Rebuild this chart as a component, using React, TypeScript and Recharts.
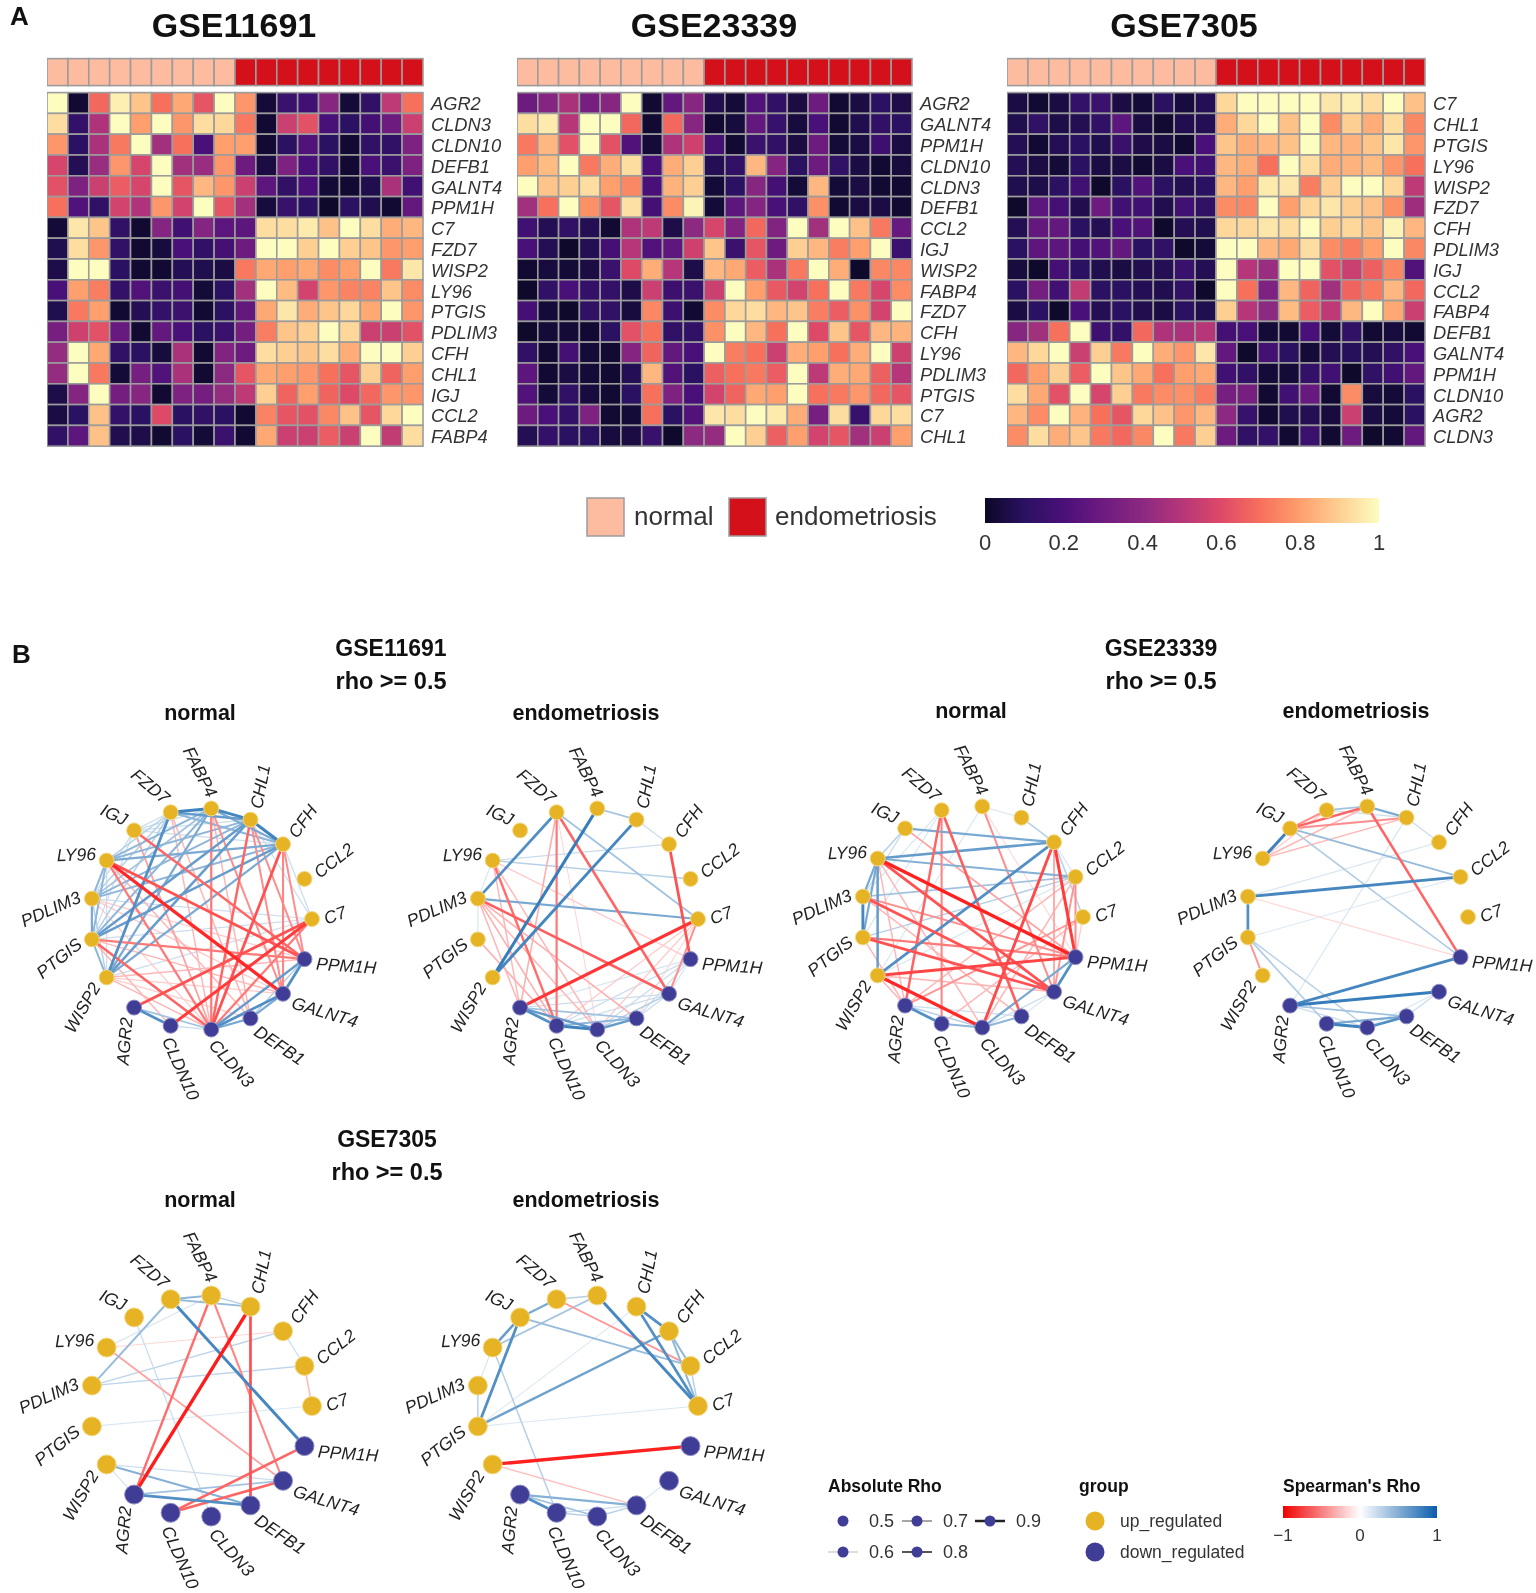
import { ScatterChart, Scatter, XAxis, YAxis, ReferenceArea } from "recharts"

const FONT = "'Liberation Sans', Arial, sans-serif"

// ---- panel A: scaled expression, one row per gene ----
const genes11691 = ["AGR2", "CLDN3", "CLDN10", "DEFB1", "GALNT4", "PPM1H", "C7", "FZD7", "WISP2", "LY96", "PTGIS", "PDLIM3", "CFH", "CHL1", "IGJ", "CCL2", "FABP4"]
const values11691 = [
  [1, .02, .68, .97, .88, .7, .82, .63, 1, .78, .03, .15, .17, .38, .03, .12, .52, .7],
  [.93, .13, .48, 1, .8, 1, .78, .93, .92, .72, .02, .55, .62, .2, .1, .18, .3, .55],
  [.78, .1, .47, .72, 1, .45, .7, .2, .8, .8, .02, .1, .22, .1, .02, .12, .12, .35],
  [.58, .08, .43, .78, .58, 1, .45, .43, .78, .3, .05, .35, .2, .12, .02, .2, .15, .35],
  [.62, .35, .55, .65, .58, 1, .63, .85, .78, .55, .25, .12, .2, .03, .02, .07, .47, .17],
  [.7, .22, .12, .57, .48, .78, .57, 1, .63, .45, .04, .14, .1, .01, .1, .07, .02, .27],
  [.03, .95, .88, .12, .02, .37, .17, .37, .25, .25, .93, .93, .96, .87, 1, .93, .83, .85],
  [.07, .93, .78, .12, .02, .04, .2, .12, .18, .3, 1, 1, .9, 1, .9, .88, .78, .8],
  [.06, 1, 1, .1, .02, .02, .08, .07, .05, .72, .82, .8, .82, .76, .8, 1, .72, .95],
  [.2, .8, .73, .13, .22, .15, .18, .03, .1, .45, 1, .86, .57, .78, .74, .74, .88, .76],
  [.07, .72, .8, .02, .08, .13, .15, .02, .1, .27, .82, .95, .83, .88, .92, .82, 1, .78],
  [.33, .56, .62, .28, .02, .27, .2, .1, .15, .32, .73, .88, .9, 1, .92, .55, .55, .62],
  [.42, 1, .82, .12, .1, .04, .47, .02, .36, .3, .93, .9, .88, .93, .83, 1, 1, .9],
  [.42, 1, .72, .03, .33, .22, .47, .02, .4, .63, .82, .8, .78, .7, .63, .9, .67, .8],
  [.06, .37, 1, .32, .38, .02, .35, .32, .42, .52, .9, .67, .8, .67, .6, .68, .78, .78],
  [.05, .1, .87, .13, .1, .6, .1, .12, .1, .02, .74, .63, .62, .75, .87, .63, .92, 1],
  [.12, .25, .87, .07, .06, .02, .1, .03, .15, .02, .82, .55, .55, .65, .55, 1, .53, .93],
]

const genes23339 = ["AGR2", "GALNT4", "PPM1H", "CLDN10", "CLDN3", "DEFB1", "CCL2", "IGJ", "WISP2", "FABP4", "FZD7", "CFH", "LY96", "PDLIM3", "PTGIS", "C7", "CHL1"]
const values23339 = [
  [.3, .37, .47, .33, .38, 1, .02, .27, .38, .07, .03, .22, .12, .05, .3, .02, .05, .1, .06],
  [.93, .96, .5, 1, 1, .68, .02, .68, .38, .02, .04, .27, .14, .04, .2, .02, .07, .12, .1],
  [.72, .85, .62, 1, .62, .22, .03, .48, .56, .18, .02, .15, .12, .05, .3, .03, .05, .16, .05],
  [.8, .86, 1, .72, .83, .93, .2, .83, .9, .08, .12, .85, .37, .1, .3, .12, .05, .02, .04],
  [1, .88, .9, .93, .8, .75, .2, .84, .9, .03, .1, .38, .18, .03, .85, .03, .05, .02, .02],
  [.45, .7, 1, .77, .63, .94, .18, .76, .98, .03, .25, .37, .2, .12, .77, .02, .05, .05, .02],
  [.17, .08, .12, .08, .02, .48, .52, .06, .4, .58, .36, .68, .36, 1, .45, 1, .87, .72, .28],
  [.2, .08, .01, .08, .18, .5, .22, .26, .56, .88, .15, .63, .3, .9, .85, .73, .8, 1, .15],
  [.02, .04, .03, .05, .15, .6, .83, .5, .06, .85, .82, .65, .47, .72, 1, .83, .01, .75, .75],
  [.01, .12, .2, .13, .13, .06, .55, .16, .15, .55, 1, .8, .64, .57, .7, 1, .72, .58, .76],
  [.18, .03, .01, .12, .12, .04, .75, .16, .02, .76, .92, .93, .85, .88, .73, .65, .77, .57, 1],
  [.01, .03, .03, .02, .1, .62, .7, .12, .12, .77, 1, .85, .7, 1, .6, .88, .63, .85, .84],
  [.12, .02, .18, .03, .02, .37, .67, .27, .2, 1, .73, .7, .55, .83, .8, .7, .83, 1, .56],
  [.25, .02, .05, .03, .02, .08, .85, .22, .1, .66, .7, .72, .65, 1, .52, .83, .82, .66, .5],
  [.22, .03, .12, .04, .02, .1, .7, .35, .2, .57, .67, .82, .8, 1, .7, .72, .78, .68, .63],
  [.3, .2, .13, .35, .02, .03, .7, .1, .22, .95, .93, 1, .96, .83, .33, .93, .14, .92, .93],
  [.08, .13, .1, .1, .04, .05, .14, .01, .4, .42, 1, .9, .66, .8, .57, .63, .45, .55, .8],
]

const genes7305 = ["C7", "CHL1", "PTGIS", "LY96", "WISP2", "FZD7", "CFH", "PDLIM3", "IGJ", "CCL2", "FABP4", "DEFB1", "GALNT4", "PPM1H", "CLDN10", "AGR2", "CLDN3"]
const values7305 = [
  [.05, .02, .05, .13, .15, .05, .03, .1, .04, .08, .92, 1, 1, 1, 1, .95, .97, .93, 1, .87],
  [.07, .12, .06, .08, .12, .25, .05, .02, .07, .08, .83, .92, 1, .87, 1, .76, .9, .83, .93, .75],
  [.08, .02, .08, .1, .07, .14, .06, .05, .02, .2, .88, .83, .85, .87, 1, .85, .84, .88, .95, .78],
  [.08, .05, .03, .1, .05, .05, .02, .05, .2, .17, .85, .83, .7, 1, .93, .83, .84, .86, .78, .7],
  [.07, .06, .1, .17, .01, .1, .22, .1, .08, .1, .85, .8, .96, .95, .73, .9, 1, 1, .92, .52],
  [.01, .25, .18, .07, .3, .17, .17, .07, .17, .12, .76, .75, 1, .8, .92, .95, .9, .87, .77, .44],
  [.08, .27, .27, .1, .08, .2, .22, .01, .08, .07, .92, .92, .95, .93, 1, .9, .92, .88, .98, .85],
  [.1, .25, .25, .18, .22, .27, .1, .12, .01, .03, 1, 1, .85, .82, .93, .76, .73, .8, 1, .75],
  [.04, .01, .18, .1, .07, .05, .07, .08, .14, .08, 1, .5, .43, 1, 1, .62, .55, .66, .75, .22],
  [.1, .32, .17, .53, .1, .1, .08, .07, .12, .01, 1, .7, .35, .85, .67, .45, .67, .72, .85, .68],
  [.05, .1, .01, .2, .08, .1, .07, .05, .1, .07, .9, .5, .4, .86, .65, .52, .85, 1, .82, .55],
  [.38, .45, .7, 1, .16, .13, .68, .48, .47, .5, .18, .2, .03, .02, .2, .03, .12, .02, .04, .02],
  [.85, .92, 1, .55, .9, .72, 1, .83, .78, .95, .27, .01, .18, .1, .03, .08, .09, .08, .12, .2],
  [.68, .8, .9, .65, 1, .88, .82, .7, .8, .82, .17, .12, .03, .03, .13, .17, .01, .12, .17, .27],
  [.93, .82, .62, 1, .58, .9, .72, .76, .77, .73, .33, .33, .02, .17, .28, .02, .76, .04, .03, .1],
  [.85, .76, 1, .84, .7, .63, .92, .87, .78, .85, .4, .14, .02, .07, .08, .04, .55, .05, .03, .1],
  [.76, .93, .83, .88, .72, .68, .75, 1, .72, .9, .3, .12, .13, .02, .15, .02, .3, .01, .02, .27],
]

const heatTicks = [0, 0.2, 0.4, 0.6, 0.8, 1]
const rhoTicks = [-1, 0, 1]

// ---- panel B: circular layout order, counter-clockwise from C7 ----
const ringGenes = ["C7", "CCL2", "CFH", "CHL1", "FABP4", "FZD7", "IGJ", "LY96", "PDLIM3", "PTGIS", "WISP2", "AGR2", "CLDN10", "CLDN3", "DEFB1", "GALNT4", "PPM1H"]
const downGenes = ["AGR2", "CLDN10", "CLDN3", "DEFB1", "GALNT4", "PPM1H"]
const labelTilt = [-20, -38, -54, -79, 63, 40, 25, -2, -24, -39, -60, -85, 66, 48, 34, 17, 4]
const labelEndAnchored = ["FABP4", "FZD7", "IGJ", "LY96", "PDLIM3", "PTGIS", "WISP2", "AGR2"]

type Edge = [string, string, number]

// positive rho = blue, negative rho = red
const edges11691Normal: Edge[] = [
  ["FZD7", "FABP4", .9], ["FABP4", "CHL1", .88], ["CHL1", "CFH", .9], ["FZD7", "CHL1", .8], ["FZD7", "CFH", .7], ["FABP4", "CFH", .75],
  ["IGJ", "FZD7", .55], ["IGJ", "FABP4", .55], ["IGJ", "CHL1", .55], ["IGJ", "CFH", .55], ["LY96", "FZD7", .6], ["LY96", "FABP4", .7],
  ["LY96", "CHL1", .7], ["LY96", "CFH", .75], ["PDLIM3", "LY96", .7], ["PDLIM3", "IGJ", .55], ["PDLIM3", "FZD7", .6], ["PDLIM3", "FABP4", .65],
  ["PDLIM3", "CHL1", .7], ["PDLIM3", "CFH", .7], ["PTGIS", "PDLIM3", .75], ["PTGIS", "LY96", .7], ["PTGIS", "IGJ", .55], ["PTGIS", "FZD7", .6],
  ["PTGIS", "FABP4", .7], ["PTGIS", "CHL1", .8], ["PTGIS", "CFH", .8], ["WISP2", "PTGIS", .7], ["WISP2", "PDLIM3", .6], ["WISP2", "LY96", .55],
  ["WISP2", "FZD7", .85], ["WISP2", "FABP4", .75], ["WISP2", "CHL1", .8], ["WISP2", "CFH", .75], ["C7", "CFH", .55], ["C7", "CHL1", .55],
  ["C7", "PTGIS", .55], ["C7", "WISP2", .55], ["C7", "PDLIM3", .55], ["AGR2", "CLDN10", .85], ["AGR2", "CLDN3", .65], ["CLDN10", "CLDN3", .55],
  ["CLDN3", "DEFB1", .75], ["CLDN3", "GALNT4", .85], ["CLDN3", "PPM1H", .8], ["DEFB1", "GALNT4", .75], ["DEFB1", "PPM1H", .6], ["GALNT4", "PPM1H", .85],
  ["LY96", "GALNT4", -.95], ["LY96", "PPM1H", -.85], ["LY96", "CLDN3", -.75], ["IGJ", "PPM1H", -.8], ["IGJ", "CLDN3", -.65], ["FZD7", "DEFB1", -.6],
  ["FZD7", "CLDN3", -.6], ["FABP4", "GALNT4", -.7], ["FABP4", "CLDN3", -.75], ["FABP4", "DEFB1", -.6], ["CHL1", "CLDN3", -.8], ["CHL1", "PPM1H", -.7],
  ["CHL1", "GALNT4", -.7], ["CFH", "CLDN3", -.85], ["CFH", "PPM1H", -.7], ["CFH", "GALNT4", -.72], ["C7", "AGR2", -.85], ["C7", "CLDN10", -.9],
  ["C7", "CLDN3", -.75], ["PTGIS", "PPM1H", -.75], ["PTGIS", "CLDN3", -.8], ["PTGIS", "GALNT4", -.6], ["WISP2", "PPM1H", -.6], ["WISP2", "CLDN3", -.6],
  ["WISP2", "DEFB1", -.55], ["WISP2", "GALNT4", -.55], ["PDLIM3", "CLDN3", -.55], ["PDLIM3", "PPM1H", -.55], ["PDLIM3", "GALNT4", -.55], ["PTGIS", "CLDN10", -.6],
  ["LY96", "DEFB1", -.6],
]

const edges11691Endo: Edge[] = [
  ["PDLIM3", "FZD7", .85], ["WISP2", "FABP4", .92], ["WISP2", "CHL1", .88], ["FZD7", "C7", .65], ["FABP4", "CHL1", .65], ["CHL1", "CFH", .55],
  ["LY96", "CFH", .55], ["LY96", "CCL2", .6], ["LY96", "PDLIM3", .52], ["PDLIM3", "PTGIS", .52], ["PDLIM3", "C7", .75], ["AGR2", "CLDN10", .85],
  ["AGR2", "CLDN3", .8], ["CLDN10", "CLDN3", .9], ["CLDN3", "DEFB1", .8], ["CLDN10", "DEFB1", .7], ["AGR2", "DEFB1", .65], ["AGR2", "GALNT4", .55],
  ["CLDN10", "GALNT4", .55], ["CLDN3", "GALNT4", .6], ["CLDN3", "PPM1H", .55], ["CLDN10", "PPM1H", .55], ["DEFB1", "GALNT4", .55], ["DEFB1", "PPM1H", .55],
  ["GALNT4", "PPM1H", .52], ["AGR2", "PPM1H", .52],
  ["C7", "AGR2", -.92], ["FZD7", "GALNT4", -.8], ["CFH", "PPM1H", -.85], ["PDLIM3", "GALNT4", -.82], ["LY96", "CLDN10", -.78], ["FZD7", "CLDN10", -.75],
  ["FZD7", "AGR2", -.62], ["LY96", "AGR2", -.6], ["LY96", "CLDN3", -.6], ["LY96", "PPM1H", -.55], ["PDLIM3", "AGR2", -.6], ["PDLIM3", "CLDN10", -.62],
  ["PDLIM3", "CLDN3", -.6], ["PDLIM3", "DEFB1", -.62], ["PTGIS", "CLDN10", -.62], ["C7", "GALNT4", -.7], ["C7", "CLDN10", -.55], ["C7", "CLDN3", -.55],
  ["C7", "DEFB1", -.52], ["FZD7", "CLDN3", -.52],
]

const edges23339Normal: Edge[] = [
  ["IGJ", "CFH", .75], ["LY96", "CFH", .8], ["LY96", "CCL2", .72], ["IGJ", "LY96", .6], ["LY96", "PDLIM3", .75], ["LY96", "PTGIS", .75],
  ["LY96", "WISP2", .8], ["PDLIM3", "PTGIS", .88], ["PDLIM3", "CCL2", .65], ["PTGIS", "CCL2", .6], ["WISP2", "CFH", .85], ["CFH", "C7", .6],
  ["CHL1", "CFH", .6], ["IGJ", "PDLIM3", .55], ["FABP4", "CHL1", .52], ["FABP4", "WISP2", .52], ["FZD7", "PDLIM3", .52], ["FZD7", "PTGIS", .52],
  ["CFH", "CCL2", .52], ["CCL2", "WISP2", .52], ["AGR2", "CLDN10", .85], ["AGR2", "CLDN3", .6], ["AGR2", "DEFB1", .55], ["CLDN10", "CLDN3", .7],
  ["CLDN3", "DEFB1", .7], ["CLDN3", "PPM1H", .75], ["GALNT4", "PPM1H", .85], ["DEFB1", "GALNT4", .52], ["CLDN3", "GALNT4", .55],
  ["LY96", "PPM1H", -.97], ["LY96", "GALNT4", -.85], ["PDLIM3", "GALNT4", -.85], ["PTGIS", "GALNT4", -.85], ["WISP2", "PPM1H", -.88], ["WISP2", "CLDN3", -.95],
  ["FZD7", "AGR2", -.8], ["FZD7", "DEFB1", -.82], ["FZD7", "CLDN10", -.72], ["CFH", "CLDN3", -.87], ["CFH", "PPM1H", -.9], ["CFH", "GALNT4", -.65],
  ["CCL2", "GALNT4", -.68], ["CCL2", "CLDN3", -.6], ["FABP4", "GALNT4", -.7], ["IGJ", "PPM1H", -.65], ["PDLIM3", "PPM1H", -.7], ["PTGIS", "PPM1H", -.75],
  ["PTGIS", "AGR2", -.6], ["LY96", "CLDN3", -.6], ["LY96", "AGR2", -.6], ["C7", "AGR2", -.68], ["C7", "CLDN10", -.6], ["C7", "PPM1H", -.55],
  ["FABP4", "PPM1H", -.52], ["WISP2", "AGR2", -.6], ["CCL2", "PPM1H", -.7], ["PDLIM3", "DEFB1", -.6], ["CCL2", "AGR2", -.6], ["WISP2", "GALNT4", -.6],
]

const edges23339Endo: Edge[] = [
  ["LY96", "IGJ", .9], ["FZD7", "FABP4", .65], ["FABP4", "CHL1", .75], ["FZD7", "CHL1", .55], ["CHL1", "CFH", .55], ["IGJ", "CCL2", .68],
  ["IGJ", "PPM1H", .62], ["PDLIM3", "CCL2", .88], ["PDLIM3", "PTGIS", .85], ["PDLIM3", "CFH", .52], ["PTGIS", "CCL2", .51], ["AGR2", "CHL1", .52],
  ["PTGIS", "CLDN10", .62], ["PTGIS", "CLDN3", .6], ["AGR2", "PPM1H", .88], ["AGR2", "GALNT4", .92], ["CLDN10", "CLDN3", .9], ["CLDN3", "DEFB1", .85],
  ["CLDN10", "DEFB1", .75], ["AGR2", "DEFB1", .65], ["AGR2", "CLDN3", .55], ["DEFB1", "GALNT4", .55], ["CLDN3", "GALNT4", .52],
  ["IGJ", "FABP4", -.8], ["IGJ", "CHL1", -.7], ["FZD7", "IGJ", -.7], ["LY96", "FABP4", -.6], ["LY96", "CHL1", -.6], ["LY96", "FZD7", -.55],
  ["FABP4", "PPM1H", -.8], ["PDLIM3", "PPM1H", -.52], ["PTGIS", "WISP2", -.68],
]

const edges7305Normal: Edge[] = [
  ["FZD7", "FABP4", .7], ["FABP4", "CHL1", .6], ["FZD7", "CHL1", .68], ["FZD7", "PDLIM3", .68], ["FZD7", "PPM1H", .88], ["CFH", "CCL2", .55],
  ["PDLIM3", "CFH", .58], ["PDLIM3", "CCL2", .58], ["LY96", "FABP4", .52], ["IGJ", "CLDN3", .55], ["PTGIS", "C7", .51], ["WISP2", "DEFB1", .72],
  ["WISP2", "AGR2", .53], ["AGR2", "DEFB1", .85], ["AGR2", "GALNT4", .65], ["WISP2", "GALNT4", .55],
  ["CHL1", "AGR2", -.98], ["FABP4", "AGR2", -.78], ["FABP4", "GALNT4", -.72], ["CHL1", "DEFB1", -.85], ["LY96", "GALNT4", -.65], ["LY96", "CFH", -.52],
  ["CCL2", "C7", -.6], ["PPM1H", "CLDN10", -.8], ["GALNT4", "CLDN10", -.8],
]

const edges7305Endo: Edge[] = [
  ["IGJ", "LY96", .8], ["IGJ", "FZD7", .75], ["IGJ", "PTGIS", .85], ["LY96", "FABP4", .65], ["FZD7", "FABP4", .6], ["PDLIM3", "LY96", .52],
  ["PDLIM3", "PTGIS", .6], ["FABP4", "C7", .88], ["CHL1", "CFH", .85], ["CHL1", "C7", .85], ["CFH", "CCL2", .7], ["CFH", "C7", .7],
  ["CCL2", "C7", .6], ["IGJ", "CCL2", .68], ["PTGIS", "CFH", .78], ["PTGIS", "CHL1", .51], ["PTGIS", "C7", .51], ["LY96", "CLDN10", .6],
  ["AGR2", "CLDN10", .85], ["AGR2", "CLDN3", .65], ["AGR2", "DEFB1", .72], ["CLDN10", "CLDN3", .6], ["CLDN3", "DEFB1", .6], ["CLDN10", "DEFB1", .55],
  ["DEFB1", "GALNT4", .52],
  ["WISP2", "PPM1H", -.97], ["WISP2", "DEFB1", -.58], ["FZD7", "CCL2", -.68],
]

const magmaStops = ["#0c0826", "#2a1161", "#4a1079", "#6e1b80", "#8c2981", "#b63679", "#de4968", "#f7705c", "#fe9f6d", "#fecf92", "#fcfdbf"]
const rhoStops = ["#f00000", "#ffffff", "#0a5cab"]

function hexRgb(hex: string) {
  return [1, 3, 5].map((i) => parseInt(hex.slice(i, i + 2), 16))
}

function mix(a: string, b: string, t: number) {
  const p = hexRgb(a)
  const q = hexRgb(b)
  return `rgb(${p.map((c, i) => Math.round(c + (q[i] - c) * t)).join(",")})`
}

function magma(v: number) {
  const pos = Math.min(v, 0.9999) * (magmaStops.length - 1)
  const i = Math.floor(pos)
  return mix(magmaStops[i], magmaStops[i + 1], pos - i)
}

function edgeStyle(rho: number) {
  const f = (Math.abs(rho) - 0.5) / 0.5
  return {
    stroke: mix("#ffffff", rho < 0 ? "#ff1414" : "#1668b0", 0.14 + 0.86 * f),
    strokeWidth: 1 + 2.5 * f,
  }
}

const GRID = "#9c9c9c"
const HEAT_TOP = 93
const ROW_H = 20.8

function HeatCell(props: any) {
  const { cx, cy, payload, cellW } = props
  if (cx == null) return null
  return <rect x={cx - cellW / 2} y={cy - ROW_H / 2} width={cellW} height={ROW_H} fill={magma(payload.v)} stroke={GRID} strokeWidth={1.6} />
}

function AnnotationCell(props: any) {
  const { cx, cy, payload, cellW } = props
  if (cx == null) return null
  return <rect x={cx - cellW / 2} y={cy - 13.5} width={cellW} height={27} fill={payload.normal ? "#fdbba0" : "#d4101a"} stroke={GRID} strokeWidth={1.6} />
}

function GeneTick({ x, y, payload, genes }: any) {
  return (
    <text x={x} y={y + 7.5} fontFamily={FONT} fontStyle="italic" fontSize={18.3} fill="#333">
      {genes[Math.floor(payload.value)]}
    </text>
  )
}

function Heatmap({ left, plotW, genes, values, nNormal }: { left: number; plotW: number; genes: string[]; values: number[][]; nNormal: number }) {
  const nCols = values[0].length
  const cellW = plotW / nCols
  const cells = values.flatMap((row, r) => row.map((v, c) => ({ x: c + 0.5, y: r + 0.5, v })))
  const annotation = values[0].map((_, c) => ({ x: c + 0.5, y: -0.985, normal: c < nNormal }))
  return (
    <div style={{ position: "absolute", left, top: HEAT_TOP - 2 * ROW_H }}>
      <ScatterChart width={plotW + 90} height={19 * ROW_H} margin={{ top: 0, right: 0, bottom: 0, left: 0 }}>
        <XAxis type="number" dataKey="x" domain={[0, nCols]} hide />
        <YAxis
          type="number"
          dataKey="y"
          orientation="right"
          reversed
          domain={[-2, 17]}
          ticks={genes.map((_, i) => i + 0.5)}
          interval={0}
          axisLine={false}
          tickLine={false}
          width={90}
          tickMargin={2}
          tick={(p: any) => <GeneTick {...p} genes={genes} />}
        />
        <Scatter data={annotation} isAnimationActive={false} shape={(p: any) => <AnnotationCell {...p} cellW={cellW} />} />
        <Scatter data={cells} isAnimationActive={false} shape={(p: any) => <HeatCell {...p} cellW={cellW} />} />
      </ScatterChart>
    </div>
  )
}

const RING_R = 111
const ringNodes = ringGenes.map((gene, i) => {
  const a = (i * 2 * Math.PI) / ringGenes.length
  return { gene, tilt: labelTilt[i], x: RING_R * Math.cos(a), y: RING_R * Math.sin(a), ux: Math.cos(a), uy: -Math.sin(a) }
})

function RingNode(props: any) {
  const { cx, cy, payload, r } = props
  if (cx == null) return null
  const down = downGenes.includes(payload.gene)
  const off = r + 5
  const lx = cx + payload.ux * off
  const ly = cy + payload.uy * off
  return (
    <g>
      <circle cx={cx} cy={cy} r={r} fill={down ? "#3f3d96" : "#e6b325"} stroke={down ? "#8f8ec4" : "#f3d986"} strokeWidth={1} />
      <text
        x={lx}
        y={ly}
        transform={`rotate(${payload.tilt} ${lx} ${ly})`}
        textAnchor={labelEndAnchored.includes(payload.gene) ? "end" : "start"}
        dominantBaseline="central"
        fontFamily={FONT}
        fontStyle="italic"
        fontSize={17.5}
        fill="#222"
      >
        {payload.gene}
      </text>
    </g>
  )
}

function NoPoint() {
  return <g />
}

function Network({ cx, cy, edges, r }: { cx: number; cy: number; edges: Edge[]; r: number }) {
  const sorted = [...edges].sort((a, b) => Math.abs(a[2]) - Math.abs(b[2]))
  const at = (g: string) => ringNodes.find((n) => n.gene === g)!
  return (
    <div style={{ position: "absolute", left: cx - 200, top: cy - 200 }}>
      <ScatterChart width={400} height={400} margin={{ top: 0, right: 0, bottom: 0, left: 0 }}>
        <XAxis type="number" dataKey="x" domain={[-200, 200]} hide />
        <YAxis type="number" dataKey="y" domain={[-200, 200]} hide />
        {sorted.map(([a, b, rho]) => (
          <Scatter key={a + b} data={[at(a), at(b)]} line={edgeStyle(rho)} shape={NoPoint} isAnimationActive={false} />
        ))}
        <Scatter data={ringNodes} isAnimationActive={false} shape={(p: any) => <RingNode {...p} r={r} />} />
      </ScatterChart>
    </div>
  )
}

function ColorBar({ left, top, width, height, domain, ticks, stops, fontSize, id }: any) {
  // the tick values double as a series so the chart has data to lay its axis out from
  const anchors = ticks.map((t: number) => ({ x: t, y: 0.5 }))
  return (
    <div style={{ position: "absolute", left: left - 20, top }}>
      <ScatterChart width={width + 40} height={height + 40} margin={{ top: 0, right: 20, bottom: 0, left: 20 }}>
        <defs>
          <linearGradient id={id} x1="0" y1="0" x2="1" y2="0">
            {stops.map((c: string, i: number) => (
              <stop key={i} offset={`${(i / (stops.length - 1)) * 100}%`} stopColor={c} />
            ))}
          </linearGradient>
        </defs>
        <XAxis
          type="number"
          dataKey="x"
          domain={domain}
          ticks={ticks}
          interval={0}
          axisLine={false}
          tickLine={false}
          height={40}
          tickMargin={5}
          tickFormatter={(t: number) => String(t).replace("-", "\u2212")}
          tick={{ fontFamily: FONT, fontSize, fill: "#333" }}
        />
        <YAxis type="number" dataKey="y" domain={[0, 1]} hide />
        <ReferenceArea x1={domain[0]} x2={domain[1]} y1={0} y2={1} fill={`url(#${id})`} fillOpacity={1} stroke="none" />
        <Scatter data={anchors} shape={NoPoint} isAnimationActive={false} />
      </ScatterChart>
    </div>
  )
}

function Label({ x, y, size, bold, anchor, children }: any) {
  return (
    <text x={x} y={y} fontSize={size} fontWeight={bold ? "bold" : "normal"} textAnchor={anchor ?? "start"} fontFamily={FONT} fill={bold ? "#111" : "#333"}>
      {children}
    </text>
  )
}

function RhoKey({ x, y, label, grey, w }: any) {
  return (
    <g>
      <line x1={x - 15} x2={x + 15} y1={y} y2={y} stroke={grey} strokeWidth={w} />
      <circle cx={x} cy={y} r={5.5} fill="#3f3d96" />
      <Label x={x + 26} y={y + 6} size={18}>{label}</Label>
    </g>
  )
}

function DatasetHeader({ x, y, name }: any) {
  return (
    <>
      <Label x={x} y={y} size={23} bold anchor="middle">{name}</Label>
      <Label x={x} y={y + 33} size={23.5} bold anchor="middle">{"rho >= 0.5"}</Label>
    </>
  )
}

export default function App() {
  return (
    <div style={{ position: "absolute", left: 0, top: 0, width: 1536, height: 1593, background: "#fff", overflow: "hidden", filter: "blur(0.55px)" }}>
      <Heatmap left={47} plotW={376} genes={genes11691} values={values11691} nNormal={9} />
      <Heatmap left={517} plotW={395} genes={genes23339} values={values23339} nNormal={9} />
      <Heatmap left={1007} plotW={418} genes={genes7305} values={values7305} nNormal={10} />

      <ColorBar id="magmaBar" left={985} top={498} width={394} height={25} domain={[0, 1]} ticks={heatTicks} stops={magmaStops} fontSize={22} />

      <Network cx={201} cy={919} edges={edges11691Normal} r={7.5} />
      <Network cx={586.7} cy={919} edges={edges11691Endo} r={7.5} />
      <Network cx={971.7} cy={917} edges={edges23339Normal} r={7.5} />
      <Network cx={1357} cy={917} edges={edges23339Endo} r={7.5} />
      <Network cx={201} cy={1406} edges={edges7305Normal} r={9.5} />
      <Network cx={586.7} cy={1406} edges={edges7305Endo} r={9.5} />

      <ColorBar id="rhoBar" left={1283} top={1506} width={154} height={12} domain={[-1, 1]} ticks={rhoTicks} stops={rhoStops} fontSize={17} />

      <svg width={1536} height={1593} style={{ position: "absolute", left: 0, top: 0, pointerEvents: "none" }}>
        <Label x={10} y={25} size={26} bold>A</Label>
        <Label x={234} y={37} size={34} bold anchor="middle">GSE11691</Label>
        <Label x={714} y={37} size={34} bold anchor="middle">GSE23339</Label>
        <Label x={1184} y={37} size={34} bold anchor="middle">GSE7305</Label>

        <rect x={587} y={498} width={37} height={38} fill="#fdbba0" stroke={GRID} strokeWidth={1.5} />
        <Label x={634} y={525} size={26}>normal</Label>
        <rect x={729} y={498} width={37} height={38} fill="#d4101a" stroke={GRID} strokeWidth={1.5} />
        <Label x={775} y={525} size={26}>endometriosis</Label>

        <Label x={12} y={663} size={26} bold>B</Label>
        <DatasetHeader x={391} y={656} name="GSE11691" />
        <DatasetHeader x={1161} y={656} name="GSE23339" />
        <DatasetHeader x={387} y={1147} name="GSE7305" />

        <Label x={200} y={720} size={21.5} bold anchor="middle">normal</Label>
        <Label x={586} y={720} size={21.5} bold anchor="middle">endometriosis</Label>
        <Label x={971} y={718} size={21.5} bold anchor="middle">normal</Label>
        <Label x={1356} y={718} size={21.5} bold anchor="middle">endometriosis</Label>
        <Label x={200} y={1207} size={21.5} bold anchor="middle">normal</Label>
        <Label x={586} y={1207} size={21.5} bold anchor="middle">endometriosis</Label>

        <Label x={828} y={1492} size={17.5} bold>Absolute Rho</Label>
        <RhoKey x={843} y={1521} label="0.5" grey="#f2f2f2" w={0.5} />
        <RhoKey x={843} y={1552} label="0.6" grey="#bbbbbb" w={1} />
        <RhoKey x={917} y={1521} label="0.7" grey="#888888" w={1.5} />
        <RhoKey x={917} y={1552} label="0.8" grey="#555555" w={2} />
        <RhoKey x={990} y={1521} label="0.9" grey="#222222" w={2.5} />

        <Label x={1079} y={1492} size={17.5} bold>group</Label>
        <circle cx={1095} cy={1521} r={9.5} fill="#e6b325" />
        <Label x={1120} y={1527} size={17.5}>up_regulated</Label>
        <circle cx={1095} cy={1552} r={9.5} fill="#3f3d96" />
        <Label x={1120} y={1558} size={17.5}>down_regulated</Label>

        <Label x={1283} y={1492} size={17.5} bold>Spearman's Rho</Label>
      </svg>
    </div>
  )
}
